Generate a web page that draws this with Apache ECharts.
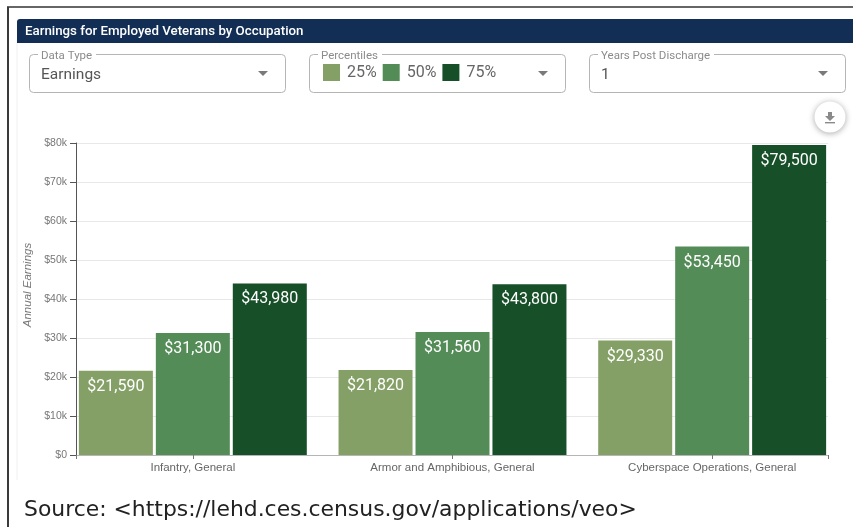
<!DOCTYPE html>
<html><head><meta charset="utf-8">
<style>html,body{margin:0;padding:0;background:#fff}#c{width:853px;height:527px}</style>
<script src="https://cdn.jsdelivr.net/npm/echarts@6/dist/echarts.min.js"></script>
</head><body><div id="c"></div>
<script>
var categories = ['Infantry, General', 'Armor and Amphibious, General', 'Cyberspace Operations, General'];
var p25 = [21590, 21820, 29330];
var p50 = [31300, 31560, 53450];
var p75 = [43980, 43800, 79500];
var seriesNames = ['25%', '50%', '75%'];
var colors = ['#84a066', '#548c58', '#164f28'];
var yMax = 80000, yStep = 10000;
var chartTitle = 'Earnings for Employed Veterans by Occupation';
var yName = 'Annual Earnings';
var sourceText = 'Source: <https://lehd.ces.census.gov/applications/veo>';

var font = 'Roboto';
var chart = echarts.init(document.getElementById('c'), null, {renderer:'canvas'});
function money(v){ return '$' + v.toLocaleString('en-US'); }
function barSeries(i, data){
  return {
    name: seriesNames[i], type:'bar', xAxisIndex:1, yAxisIndex:1, data:data,
    barWidth:74, barGap:'4%', itemStyle:{color:colors[i]}, z:3, silent:true,
    label:{show:true, position:'insideTop', distance:8, color:'#fff', fontFamily:font, fontSize:16,
      formatter:function(p){return money(p.value);}}
  };
}
function selectBox(x,w){
  return {type:'rect', shape:{x:x+.5,y:54.5,width:w,height:38,r:4}, style:{fill:'#fff',stroke:'#b5b5b5',lineWidth:1}, z:1};
}
function label(x,w,t){
  return [{type:'rect', shape:{x:x-3,y:50,width:w+6,height:8}, style:{fill:'#fff'}, z:2},
   {type:'text', x:x, y:50, style:{text:t, fill:'#8b8b8b', font:'11.5px '+font}, z:3}];
}
function arrow(cx){
  return {type:'polygon', shape:{points:[[cx-5,71],[cx+5,71],[cx,76]]}, style:{fill:'#7a7a7a'}, z:3};
}
var g = [
  {type:'rect', shape:{x:0,y:0,width:853,height:527}, style:{fill:'#fff'}, z:-5},
  {type:'line', shape:{x1:7,y1:7,x2:853,y2:7}, style:{stroke:'#333',lineWidth:1.4}, z:0},
  {type:'line', shape:{x1:8,y1:7,x2:8,y2:527}, style:{stroke:'#3a3a3a',lineWidth:2}, z:0},
  {type:'line', shape:{x1:17,y1:40,x2:17,y2:480}, style:{stroke:'#f0f0f0',lineWidth:1}, z:0},
  {type:'rect', shape:{x:17,y:19,width:836,height:24,r:[3,0,0,0]}, style:{fill:'#122e54'}, z:0},
  selectBox(29,256), selectBox(309,256), selectBox(589,256),
  {type:'text', x:41, y:67, style:{text:'Earnings', fill:'#555', font:'15.5px '+font}, z:3},
  {type:'text', x:601, y:67, style:{text:'1', fill:'#555', font:'15.5px '+font}, z:3},
  arrow(263), arrow(543), arrow(823),
  {type:'circle', shape:{cx:830,cy:117,r:15.5}, style:{fill:'#fff',shadowBlur:6,shadowColor:'rgba(0,0,0,.35)',shadowOffsetY:1}, z:2},
  {type:'polygon', shape:{points:[[828,112],[832,112],[832,116],[835,116],[830,121],[825,116],[828,116]]}, style:{fill:'#8a8a8a'}, z:3},
  {type:'rect', shape:{x:825,y:122,width:10,height:1.4}, style:{fill:'#8a8a8a'}, z:3},
  {type:'text', x:24, y:499, style:{text:sourceText, fill:'#222', font:'21.9px "DejaVu Sans"'}, z:3}
].concat(label(41,52,'Data Type'), label(321,58,'Percentiles'), label(601,110,'Years Post Discharge'));

chart.setOption({
  animation:false,
  backgroundColor:'#fff',
  title:{text:chartTitle, left:25, top:25, padding:0, textStyle:{color:'#fff',fontFamily:font,fontSize:13.3,fontWeight:500}, z:5},
  legend:{data:seriesNames, left:323, top:64, padding:0, itemWidth:17, itemHeight:17, itemGap:6, icon:'rect', selectedMode:false,
    textStyle:{color:'#666',fontFamily:font,fontSize:16,padding:[0,0,0,2]}, z:5},
  graphic:g,
  grid:[
    {left:76,right:25,top:143,height:312,containLabel:false},
    {left:63,width:779,top:143,height:312,containLabel:false}
  ],
  xAxis:[
    {gridIndex:0,type:'category',data:[''],axisLabel:{show:false},axisTick:{show:true,length:4,lineStyle:{color:'#777'}},axisLine:{lineStyle:{color:'#b5b5b5',width:1}}},
    {gridIndex:1,type:'category',data:categories,axisLine:{show:false},axisTick:{show:true,length:4,alignWithLabel:true,lineStyle:{color:'#777'}},
      axisLabel:{color:'#666',fontFamily:'Liberation Sans',fontSize:11.5,margin:7}}
  ],
  yAxis:[
    {gridIndex:0,type:'value',min:0,max:yMax,interval:yStep,name:yName,nameLocation:'middle',nameGap:42,
      nameTextStyle:{color:'#777',fontFamily:'Liberation Sans',fontStyle:'italic',fontSize:11.5,padding:[0,0,0,28]},
      axisLine:{show:true,lineStyle:{color:'#555',width:1}},axisTick:{show:true,length:6,lineStyle:{color:'#555'}},
      axisLabel:{color:'#777',fontFamily:'Liberation Sans',fontSize:10.5,margin:9,formatter:function(v){return v===0?'$0':'$'+(v/1000)+'k';}},
      splitLine:{show:true,lineStyle:{color:'#e8e8e8',width:1}}},
    {gridIndex:1,type:'value',min:0,max:yMax,interval:yStep,show:false,splitLine:{show:false}}
  ],
  series:[barSeries(0,p25),barSeries(1,p50),barSeries(2,p75)]
});
</script></body></html>
